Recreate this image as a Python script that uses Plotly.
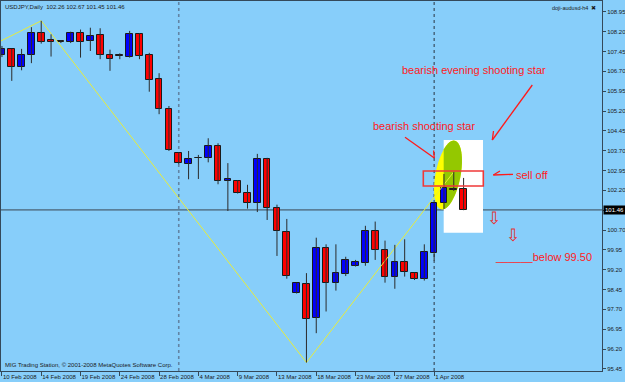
import plotly.graph_objects as go
import numpy as np

# ---------------- data ----------------
bar_idx = list(range(48))
open_ = [107.32,107.54,106.86,107.32,108.14,107.88,107.84,107.81,108.14,107.85,108.07,107.32,107.33,107.26,108.11,107.31,106.40,105.27,103.60,103.20,103.43,103.44,103.89,102.55,102.56,102.09,101.71,103.38,101.52,100.64,98.31,98.65,97.37,100.01,98.71,99.05,99.33,99.46,100.65,99.94,98.92,99.48,99.08,98.84,99.85,101.71,102.27,102.26]
high = [107.66,107.55,107.55,108.37,108.61,108.10,107.88,108.20,108.28,108.35,108.33,107.52,107.38,108.23,108.15,107.40,106.63,105.39,103.64,103.69,103.54,104.17,103.98,103.23,102.59,102.41,103.58,103.43,101.66,101.12,98.70,99.07,100.41,100.16,100.16,99.69,99.57,100.86,101.02,100.30,100.14,100.35,99.09,100.16,101.74,102.82,102.90,102.67]
low = [107.24,106.34,106.74,107.01,107.75,107.26,107.77,107.77,107.22,107.47,107.16,106.72,107.16,107.22,107.16,105.93,105.08,103.69,103.19,102.62,102.63,103.26,102.43,101.42,102.08,101.51,101.38,101.08,99.72,98.86,98.30,95.69,96.80,97.62,98.41,98.96,99.32,99.35,99.57,98.71,98.48,98.94,98.81,98.79,99.54,101.50,102.18,101.45]
close = [107.55,106.86,107.31,108.14,107.82,107.81,107.82,108.14,107.81,108.04,107.31,107.17,107.27,108.10,107.29,106.36,105.28,103.73,103.23,103.40,103.42,103.87,102.55,102.63,102.10,101.71,103.38,101.52,100.65,98.96,98.69,97.34,100.01,98.71,99.07,99.57,99.49,100.68,99.94,98.94,99.48,99.10,98.84,99.87,101.74,102.29,102.20,101.46]

date_tick_idx = [0, 4, 8, 12, 16, 20, 24, 28, 32, 36, 40, 44]
date_labels = ["10 Feb 2008", "14 Feb 2008", "19 Feb 2008", "24 Feb 2008", "28 Feb 2008",
               "4 Mar 2008", "9 Mar 2008", "13 Mar 2008", "18 Mar 2008", "23 Mar 2008",
               "27 Mar 2008", "1 Apr 2008"]
price_ticks = [95.45, 96.20, 96.95, 97.70, 98.45, 99.20, 99.95, 100.70, 101.45, 102.20,
               102.95, 103.70, 104.45, 105.20, 105.95, 106.70, 107.45, 108.20, 108.95]

zigzag_idx = [-2, 4, 31, 46]
zigzag_val = [107.50, 108.61, 95.69, 102.90]

separator_idx = [18, 44]
last_price = 101.46
title_text = "USDJPY,Daily  102.26 102.67 101.45 101.46"

# ---------------- layout geometry ----------------
W, H = 625, 382
ML, MR, MT, MB = 1, 23, 1, 11
x_range = [-0.096, 61.09]
y_range = [95.37, 109.36]
PX0, PX1 = ML, W - MR
PY0, PY1 = MT, H - MB

def dx(px):
    return x_range[0] + (px - PX0) / (PX1 - PX0) * (x_range[1] - x_range[0])

def dy(py):
    return y_range[1] - (py - PY0) / (PY1 - PY0) * (y_range[1] - y_range[0])

BG = "#87CEFA"
AX = "#34495a"
RED = "#FF1A1A"
FONT = "Liberation Sans, Arial, sans-serif"

fig = go.Figure()

# zigzag
fig.add_trace(go.Scatter(x=zigzag_idx, y=zigzag_val, mode="lines",
                         line=dict(color="#E6EC3C", width=1), hoverinfo="skip"))

# wicks
wx, wy = [], []
for i, h, l in zip(bar_idx, high, low):
    wx += [i, i, None]
    wy += [l, h, None]
fig.add_trace(go.Scatter(x=wx, y=wy, mode="lines", line=dict(color="#2b2b2b", width=1),
                         hoverinfo="skip"))

# bodies
base = [min(o, c) for o, c in zip(open_, close)]
hgt = [max(abs(c - o), 0.02) for o, c in zip(open_, close)]
cols = ["#0000FF" if c > o else "#FF0000" for o, c in zip(open_, close)]
fig.add_trace(go.Bar(x=bar_idx, y=hgt, base=base, width=0.68, marker=dict(
    color=cols, line=dict(color="#1a1a1a", width=1)), hoverinfo="skip"))

shapes = []
# white box
shapes.append(dict(type="rect", xref="x", yref="y", x0=dx(443.7), x1=dx(483), y0=dy(232.7), y1=dy(140),
                   fillcolor="white", line=dict(width=0), layer="below"))
# ellipse (tilted)
cx, cy, a, b = 448.0, 175.0, 35.0, 12.5
u = np.array([13.3, -68.6]); u = u / np.linalg.norm(u)
v = np.array([-u[1], u[0]])
t = np.linspace(0, 2 * np.pi, 80, endpoint=False)
pts = [(cx + a * np.cos(tt) * u[0] + b * np.sin(tt) * v[0],
        cy + a * np.cos(tt) * u[1] + b * np.sin(tt) * v[1]) for tt in t]

def to_path(p):
    return "M" + " L".join(f"{dx(x):.4f},{dy(y):.4f}" for x, y in p) + " Z"

shapes.append(dict(type="path", xref="x", yref="y", path=to_path(pts), fillcolor="#FFFF00",
                   line=dict(width=0), layer="below"))
# part of the ellipse overlapping the white box
xc = 443.7
clipped = []
n = len(pts)
for k in range(n):
    p, q = pts[k], pts[(k + 1) % n]
    pin, qin = p[0] >= xc, q[0] >= xc
    if pin:
        clipped.append(p)
    if pin != qin:
        tt = (xc - p[0]) / (q[0] - p[0])
        clipped.append((xc, p[1] + tt * (q[1] - p[1])))
shapes.append(dict(type="path", xref="x", yref="y", path=to_path(clipped), fillcolor="#94C800",
                   line=dict(width=0), layer="below"))

# current price line
shapes.append(dict(type="line", xref="paper", yref="y", x0=0, x1=1, y0=last_price, y1=last_price,
                   line=dict(color="#3a4650", width=1), layer="below"))
# period separators
shapes.append(dict(type="line", xref="x", yref="paper", x0=separator_idx[0], x1=separator_idx[0], y0=0, y1=1,
                   line=dict(color="#6284a4", width=1.6, dash="dot"), layer="below"))
shapes.append(dict(type="line", xref="x", yref="paper", x0=separator_idx[1], x1=separator_idx[1], y0=0, y1=1,
                   line=dict(color="#2a3440", width=1, dash="dot"), layer="below"))
# red rectangle
shapes.append(dict(type="rect", xref="x", yref="y", x0=dx(423.3), x1=dx(483.3), y0=dy(186), y1=dy(171),
                   line=dict(color="#F03838", width=1.6), fillcolor="rgba(0,0,0,0)", layer="above"))
# red arrows (line + barb)
for (x0, y0, x1, y1) in [(532.3, 85, 492.3, 140), (492.3, 140, 493.5, 131),
                         (405, 137.3, 434.3, 158), (434.3, 158, 433.6, 150.5),
                         (513, 174.3, 493.3, 175), (493.3, 175, 500, 171)]:
    shapes.append(dict(type="line", xref="x", yref="y", x0=dx(x0), y0=dy(y0), x1=dx(x1), y1=dy(y1),
                       line=dict(color=RED, width=1.3), layer="above"))

ann = []
def txt(px, py, s, size=11, color=RED, xanchor="center", **kw):
    ann.append(dict(x=dx(px), y=dy(py), xref="x", yref="y", text=s, showarrow=False,
                    xanchor=xanchor, yanchor="middle", font=dict(family=FONT, size=size, color=color), **kw))

txt(474, 70, "bearish evening shooting star")
txt(424, 126, "bearish shooting star")
txt(532.5, 175, "sell off")
txt(543, 257, "______below 99.50")
txt(493.5, 218, "⇩", size=17, color="#E83030")
txt(513, 235, "⇩", size=17, color="#E83030")

ann.append(dict(x=0, y=1, xref="paper", yref="paper", xanchor="left", yanchor="top", xshift=2, yshift=-1,
                text=title_text, showarrow=False, font=dict(family=FONT, size=6, color="#1a1a1a")))
ann.append(dict(x=1, y=1, xref="paper", yref="paper", xanchor="right", yanchor="top", xshift=-4, yshift=-2,
                text="doji-audusd-h4  ✖", showarrow=False, font=dict(family=FONT, size=5.5, color="#1a1a1a")))
ann.append(dict(x=0, y=0, xref="paper", yref="paper", xanchor="left", yanchor="bottom", xshift=2, yshift=1,
                text="MIG Trading Station, © 2001-2008 MetaQuotes Software Corp.", showarrow=False,
                font=dict(family=FONT, size=6, color="#1a1a1a")))
ann.append(dict(x=1, y=last_price, xref="paper", yref="y", xanchor="left", yanchor="middle", xshift=1,
                text=f"{last_price:.2f}", showarrow=False, bgcolor="#000000", borderpad=1,
                font=dict(family=FONT, size=6, color="white")))

# the regular 101.45 tick label is hidden behind the current-price box
ytick_text = ["" if abs(p - last_price) < 0.05 else f"{p:.2f}" for p in price_ticks]

fig.update_layout(
    width=W, height=H, margin=dict(l=ML, r=MR, t=MT, b=MB, autoexpand=False),
    paper_bgcolor=BG, plot_bgcolor=BG, showlegend=False,
    shapes=shapes, annotations=ann, bargap=0,
    xaxis=dict(range=x_range, tickvals=date_tick_idx, ticktext=date_labels, showgrid=False, zeroline=False,
               showline=True, linecolor=AX, linewidth=1, mirror=True, ticks="outside", ticklen=4,
               tickcolor=AX, ticklabelposition="outside right", tickangle=0, automargin=False,
               tickfont=dict(family=FONT, size=6, color="#1a1a1a")),
    yaxis=dict(range=y_range, side="right", tickvals=price_ticks, ticktext=ytick_text,
               showgrid=False, zeroline=False, showline=True, linecolor=AX, linewidth=1, mirror=True,
               ticks="outside", ticklen=3, tickcolor=AX, automargin=False,
               tickfont=dict(family=FONT, size=6, color="#1a1a1a")),
)

fig.write_html("out.html")
